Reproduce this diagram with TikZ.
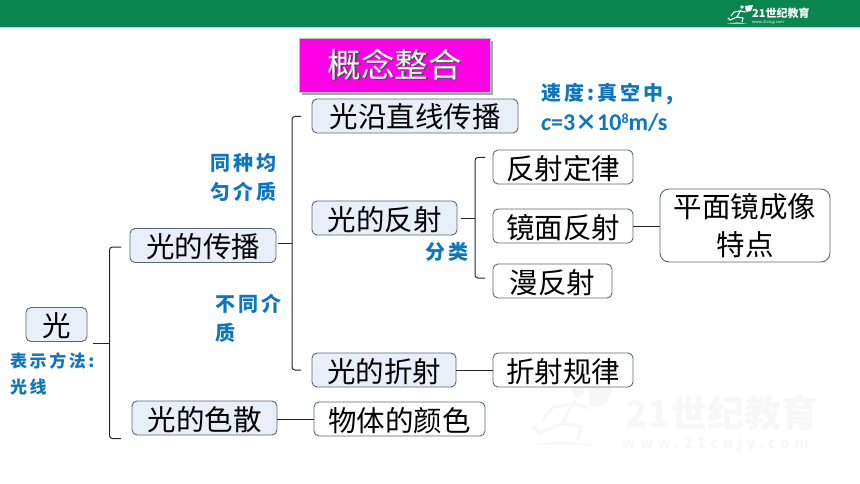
\documentclass[tikz,border=0pt]{standalone}
\usepackage{fontspec}
\setmainfont{Noto Sans CJK SC}
\newfontfamily\bluecjk[LetterSpace=15]{Noto Sans CJK SC}
\newfontfamily\markcjk[LetterSpace=29]{Noto Sans CJK SC}
\newfontfamily\latinb{Carlito}
\usetikzlibrary{positioning}
\definecolor{headgreen}{HTML}{0A8550}
\definecolor{boxfill}{HTML}{E9EFF8}
\definecolor{boxline}{HTML}{5B6673}
\definecolor{noteblue}{HTML}{0F76BE}
\definecolor{titlepink}{HTML}{FF00E6}
\definecolor{markgray}{HTML}{F7F7F7}
\newcommand{\drawrunner}[5]{%
  \begin{scope}[shift={(#1,#2)},scale=#3,draw=#4,fill=#4,line width=#5,line cap=round,line join=round]
    \fill (15,2) circle (1.9);
    \draw (14,5) -- (10,12) -- (3,15) -- (1,13);
    \draw (10,12) -- (16,13) -- (15,17);
    \draw (13,6) -- (7,7) -- (4,11);
    \draw (14,6) -- (18,7);
    \fill (18,1) -- (26,0) -- (24,6) -- (19,7) -- cycle;
    \fill (0,18.6) -- (10,17.6) -- (20,18.6) -- cycle;
  \end{scope}}
\tikzset{
  conceptbox/.style={draw=boxline,line width=0.9pt,rounded corners=5pt,inner sep=0pt,
    minimum height=34pt,font=\fontsize{28.5}{38}\selectfont,text=black,align=center},
  oneline/.style={text height=24pt,text depth=0pt},
  lightbox/.style={conceptbox,oneline,fill=boxfill},
  whitebox/.style={conceptbox,oneline,fill=white},
  link/.style={draw=black!85,line width=1pt},
  bracket/.style={link,rounded corners=3pt},
  note/.style={text=noteblue,inner sep=0pt,anchor=west,font=\fontsize{20}{29}\selectfont\bluecjk\bfseries,align=left},
}
\begin{document}
\begin{tikzpicture}[x=1pt,y=-1pt]
\useasboundingbox (0,0) rectangle (860,484);
\fill[headgreen] (0,0) rectangle (860,27);
\fill[headgreen!30] (0,27) rectangle (860,28.5);

\drawrunner{727}{5}{1}{white}{1.1pt}
\node[inner sep=0pt,anchor=west,text=white,font=\fontsize{11}{11}\selectfont\bfseries] (logotext) at (752,13) {21世纪教育};
\node[inner sep=0pt,anchor=west,text=white,font=\fontsize{4}{4}\selectfont] (logoweb) at (752,22) {www.21cnjy.com};

\drawrunner{530}{385}{3.2}{markgray}{3.5pt}
\node[inner sep=0pt,anchor=west,text=markgray,font=\fontsize{37}{37}\selectfont\bfseries] (marktext) at (625,413) {21世纪教育};
\node[inner sep=0pt,anchor=west,text=markgray,font=\fontsize{15}{15}\selectfont\markcjk\bfseries] (markweb) at (622,444) {www.21cnjy.com};

\fill[black!35] (302,41) rectangle (493,95);
\node[draw=black!25,fill=titlepink,inner sep=0pt,minimum width=191pt,minimum height=54pt] (title) at (394.5,65) {};
\node[inner sep=0pt,text=black!70,font=\fontsize{33.5}{33.5}\selectfont] (titleshade) at (396,66) {概念整合};
\node[inner sep=0pt,text=white,font=\fontsize{33.5}{33.5}\selectfont] (titletext) at (394.5,65) {概念整合};

\node[lightbox,minimum width=61pt] (guang) at (56.5,324.5) {光};
\node[lightbox,minimum width=146pt] (chuanbo) at (203,245.5) {光的传播};
\node[lightbox,minimum width=145pt] (sesan) at (204.5,418) {光的色散};
\node[lightbox,minimum width=206pt] (zhixian) at (415,116) {光沿直线传播};
\node[lightbox,minimum width=145pt] (fanshe) at (384.5,218) {光的反射};
\node[lightbox,minimum width=144pt] (zheshe) at (384,370) {光的折射};
\node[whitebox,minimum width=140pt] (dinglv) at (563,167) {反射定律};
\node[whitebox,minimum width=140pt] (jingmian) at (563,226) {镜面反射};
\node[whitebox,minimum width=119pt] (manfan) at (552.5,281) {漫反射};
\node[conceptbox,fill=white,minimum width=170pt,minimum height=73pt,rounded corners=9pt] (tedian) at (745,225.5) {平面镜成像\\特点};
\node[whitebox,minimum width=140pt] (guilv) at (563,370) {折射规律};
\node[whitebox,minimum width=171pt] (yanse) at (399.5,419) {物体的颜色};

\node[note] (sudu) at (541,94) {速度:真空中,};
\node[note,font=\fontsize{24}{24}\selectfont\latinb\bfseries] (sudu2) at (541,123) {{\itshape c}=3{\fontsize{22}{22}\selectfont\bluecjk ×}10\raisebox{7pt}{\fontsize{14}{14}\selectfont 8}m/s};
\node[note] (tongzhong) at (210,177.5) {同种均\\匀介质};
\node[note] (butong) at (215,318.5) {不同介\\质};
\node[note] (fenlei) at (425,252) {分类};
\node[note,font=\fontsize{17}{26}\selectfont\bluecjk\bfseries] (biaoshi) at (10,374) {表示方法:\\光线};

\coordinate (s1) at (93,343);
\coordinate (j1) at (109.5,343);
\coordinate (t1) at (121,247);
\coordinate (b1) at (121,438.5);
\draw[bracket] (t1) -- (t1-|j1) -- (b1-|j1) -- (b1);
\draw[link] (s1) -- (j1);

\coordinate (s2) at (278,243);
\coordinate (j2) at (292,243);
\coordinate (t2) at (301,116.5);
\coordinate (b2) at (301,370);
\draw[bracket] (t2) -- (t2-|j2) -- (b2-|j2) -- (b2);
\draw[link] (s2) -- (j2);

\coordinate (s3) at (460.5,218);
\coordinate (j3) at (475,218);
\coordinate (t3) at (485,157.5);
\coordinate (b3) at (485,278);
\draw[bracket] (t3) -- (t3-|j3) -- (b3-|j3) -- (b3);
\draw[link] (s3) -- (j3);

\draw[link] (jingmian.east) -- (jingmian.east-|tedian.west);
\draw[link] (zheshe.east) -- (guilv.west);
\draw[link] (sesan.east|-yanse.west) -- (yanse.west);
\end{tikzpicture}
\end{document}
